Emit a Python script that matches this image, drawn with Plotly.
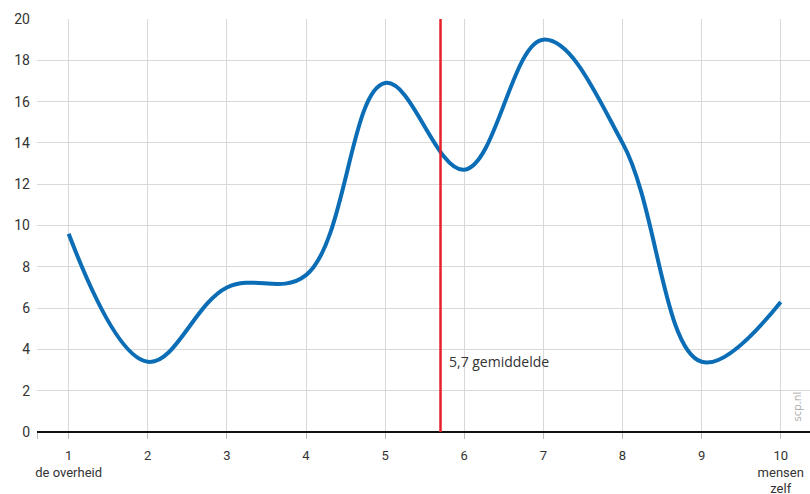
import plotly.graph_objects as go

x_vals = [1, 2, 3, 4, 5, 6, 7, 8, 9, 10]
y_vals = [9.6, 3.4, 7.0, 7.6, 16.9, 12.7, 19.0, 14.0, 3.4, 6.3]
x_tick_vals = [0.6, 1, 2, 3, 4, 5, 6, 7, 8, 9, 10]
x_tick_text = ["", "1<br>de overheid", "2", "3", "4", "5", "6", "7", "8", "9", "10<br>mensen<br>zelf"]
y_tick_vals = [0, 2, 4, 6, 8, 10, 12, 14, 16, 18, 20]
mean_value = 5.7
mean_label = "5,7 gemiddelde"

FONT = "Liberation Sans Narrow, Roboto, sans-serif"

fig = go.Figure()
fig.add_trace(go.Scatter(
    x=x_vals, y=y_vals, mode="lines",
    line=dict(color="#0a6db5", width=4, shape="spline", smoothing=1.1),
    hoverinfo="skip", showlegend=False,
))

fig.add_shape(type="line", xref="x", yref="y", x0=mean_value, x1=mean_value,
              y0=-0.25, y1=20.1, line=dict(color="#e8202a", width=2.5))
fig.add_annotation(x=mean_value, y=3.4, xref="x", yref="y", text=mean_label,
                   showarrow=False, xanchor="left", yanchor="middle", xshift=6,
                   font=dict(family="Open Sans, sans-serif", size=14, color="#333333"))
fig.add_annotation(x=1, y=0, xref="paper", yref="paper", text="scp.nl",
                   showarrow=False, textangle=-90, xanchor="right", yanchor="bottom",
                   xshift=-5, yshift=8,
                   font=dict(family="Open Sans, sans-serif", size=11, color="#aaaaaa"))

fig.update_layout(
    width=810, height=494,
    margin=dict(l=37, r=0, t=19, b=62),
    paper_bgcolor="white", plot_bgcolor="white",
    font=dict(family=FONT, size=14, color="#333333"),
    xaxis=dict(range=[0.6, 10.37], tickvals=x_tick_vals, ticktext=x_tick_text,
               tickfont=dict(size=13),
               showgrid=True, gridcolor="#d9d9d9", gridwidth=1, zeroline=False,
               ticks="outside", ticklen=6, tickcolor="#bbbbbb", tickwidth=1,
               showline=False, ticklabelstandoff=5, automargin=False, fixedrange=True),
    yaxis=dict(range=[0, 20], tickvals=y_tick_vals, showgrid=True,
               gridcolor="#d9d9d9", gridwidth=1, zeroline=True,
               zerolinecolor="#111111", zerolinewidth=1.5, ticks="",
               showline=False, ticklabelstandoff=6, automargin=False, fixedrange=True),
)

fig.write_html("out.html", config={"displayModeBar": False},
               post_script="document.body.style.margin='0';document.body.style.overflow='hidden';")
